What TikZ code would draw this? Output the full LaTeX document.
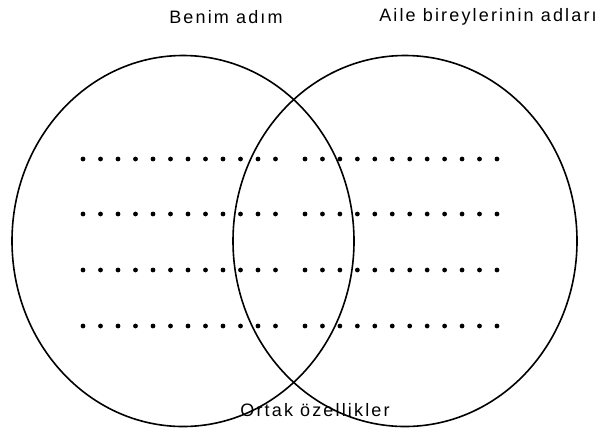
\documentclass[tikz,border=0pt]{standalone}
\usepackage{fontspec}
\setmainfont{Liberation Sans}[LetterSpace=12]
\usetikzlibrary{positioning}

\begin{document}
\begin{tikzpicture}[
  x=1pt,y=-1pt,
  every node/.style={font=\fontsize{18}{21}\selectfont},
  set/.style={line width=1.6pt},
  dot/.style={fill=black}
]
\useasboundingbox (0,0) rectangle (607,429);
% the two sets
\draw[set] (183,241) ellipse (171 and 185.5);
\draw[set] (405,241) ellipse (172 and 185.5);
% labels
\node (me) at (226,17) {Benim adım};
\node (family) at (488,17) {Aile bireylerinin adları};
\node (common) at (315,410) {Ortak özellikler};
% writing lines
\foreach \y in {159,214,270,326} {
  \foreach \i in {0,...,11} {
    \fill[dot] (83+17.5*\i,\y) circle (2.4);
    \fill[dot] (305+17.45*\i,\y) circle (2.4);
  }
}
\end{tikzpicture}
\end{document}
